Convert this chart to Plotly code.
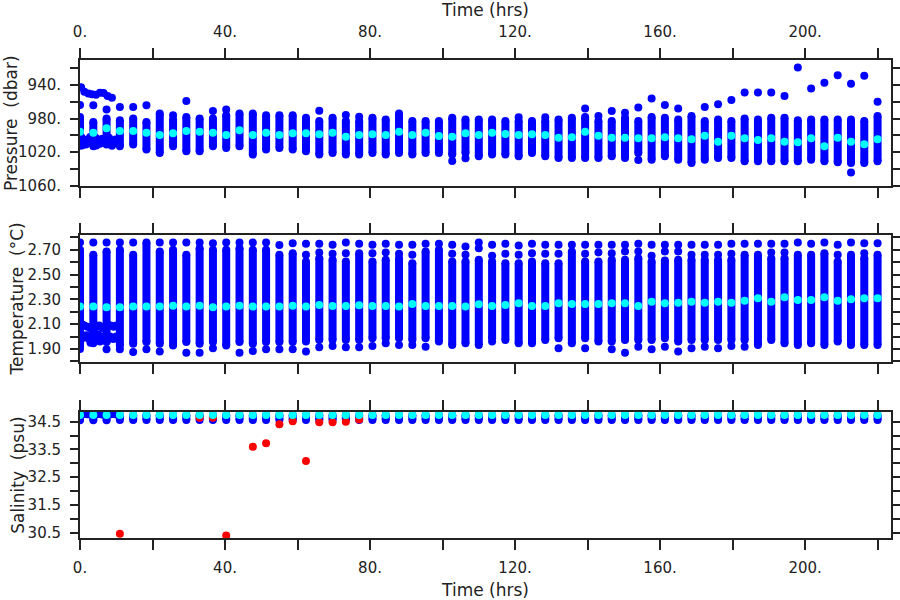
import plotly.graph_objects as go

# ---------------- data ----------------
hours = [0.0, 3.67, 7.33, 11.0, 14.67, 18.33, 22.0, 25.67, 29.33, 33.0, 36.67, 40.33,
         44.0, 47.67, 51.33, 55.0, 58.67, 62.33, 66.0, 69.67, 73.33, 77.0, 80.67, 84.33,
         88.0, 91.67, 95.33, 99.0, 102.67, 106.33, 110.0, 113.67, 117.33, 121.0, 124.67,
         128.33, 132.0, 135.67, 139.33, 143.0, 146.67, 150.33, 154.0, 157.67, 161.33, 165.0,
         168.67, 172.33, 176.0, 179.67, 183.33, 187.0, 190.67, 194.33, 198.0, 201.67, 205.33,
         209.0, 212.67, 216.33, 220.0]

# pressure profiles: shallowest / deepest of the continuous column, mean, isolated samples
pres_top = [978, 984, 980, 982, 980, 984, 974, 981, 978, 980, 980, 976, 974, 974, 976, 976,
            976, 979, 983, 979, 983, 983, 979, 981, 974, 983, 983, 983, 979, 981, 981, 981,
            983, 983, 983, 983, 981, 979, 978, 983, 983, 979, 983, 978, 979, 981, 977, 983,
            981, 983, 980, 981, 979, 979, 982, 981, 981, 981, 981, 983, 977]
pres_bot = [1012, 1013, 1011, 1013, 1011, 1017, 1021, 1013, 1019, 1019, 1013, 1015, 1013,
            1023, 1017, 1015, 1017, 1019, 1023, 1021, 1023, 1023, 1021, 1023, 1021, 1023,
            1021, 1021, 1023, 1021, 1025, 1023, 1023, 1025, 1021, 1025, 1027, 1027, 1027,
            1027, 1025, 1027, 1021, 1029, 1025, 1029, 1033, 1029, 1027, 1027, 1031, 1031,
            1031, 1031, 1031, 1029, 1031, 1032, 1033, 1033, 1031]
pres_mean = [995.7, 997.0, 991.6, 994.8, 994.8, 997.0, 999.6, 997.6, 994.8, 995.7, 997.0,
             999.6, 994.0, 999.6, 997.0, 999.6, 997.6, 997.6, 998.8, 996.8, 1001.6, 999.6,
             998.8, 999.6, 995.7, 999.6, 996.8, 1000.8, 1001.6, 997.6, 999.6, 996.8, 998.4,
             999.6, 998.8, 999.6, 1002.8, 1002.4, 995.7, 1000.4, 1002.8, 1002.8, 1003.6,
             1003.6, 1002.4, 1003.6, 1004.8, 1000.4, 1007.5, 1000.4, 1003.6, 1005.6, 1003.6,
             1007.5, 1008.3, 1003.6, 1013.0, 1002.8, 1007.5, 1010.5, 1004.8]
pres_extra = [[963.8], [964], [969], [966], [966], [964], [], [976], [959], [], [971], [969],
              [], [], [], [], [], [], [970.6], [], [975.8], [977.7], [], [], [], [], [], [],
              [1030.6], [1027.4], [], [], [], [978.5], [], [978.5], [], [], [967.8], [976.9],
              [971], [973], [966.6, 1029.4], [955.9], [963.8], [967.8], [], [966], [963],
              [957.9], [948.7], [948.7], [948.7], [953.1], [918.9], [944], [937.2], [928.1],
              [938.4, 1044.5], [928.9], [959.9]]
early_pres_hours = [0.3, 1.2, 2.3, 3.3, 4.4, 5.5, 6.5, 7.6, 8.8,
                    0.5, 1.0, 1.6, 2.2, 2.8, 3.3, 4.3, 4.9, 5.5, 6.1, 6.7, 8.0, 8.5, 9.2, 9.8,
                    10.3, 0.5, 4.5, 8.8]
early_pres = [942.5, 948, 950, 951, 951.5, 949, 949.5, 953, 955,
              1003, 1008, 1011, 1005, 1002, 1008, 1003, 1006, 1010, 1004, 1008, 1003, 1007,
              1010, 1005, 1008, 1012, 1012, 1012.5]

# temperature profiles
temp_hi = [2.70, 2.66, 2.687, 2.70, 2.66, 2.759, 2.687, 2.70, 2.66, 2.714, 2.70, 2.70, 2.714,
           2.70, 2.70, 2.66, 2.673, 2.606, 2.633, 2.620, 2.606, 2.673, 2.606, 2.620, 2.633,
           2.593, 2.687, 2.70, 2.606, 2.606, 2.620, 2.606, 2.593, 2.593, 2.606, 2.593, 2.593,
           2.687, 2.606, 2.606, 2.620, 2.620, 2.633, 2.606, 2.614, 2.620, 2.620, 2.620, 2.620,
           2.620, 2.660, 2.660, 2.633, 2.633, 2.660, 2.660, 2.673, 2.606, 2.660, 2.633, 2.660]
temp_lo = [1.90, 1.946, 1.956, 1.929, 1.942, 1.956, 1.942, 1.929, 1.956, 1.942, 1.956, 1.929,
           1.956, 1.942, 1.956, 1.956, 1.956, 1.960, 1.973, 1.973, 1.973, 1.973, 1.987, 1.987,
           1.987, 1.973, 1.987, 1.960, 1.933, 1.946, 1.933, 1.987, 1.973, 1.946, 1.946, 1.973,
           1.987, 1.946, 1.987, 1.960, 1.960, 1.973, 1.973, 1.973, 1.987, 1.960, 1.973, 1.973,
           1.973, 1.973, 1.973, 1.933, 1.973, 1.946, 1.933, 1.946, 1.933, 1.960, 1.933, 1.933,
           1.933]
temp_mean = [2.242, 2.242, 2.237, 2.237, 2.242, 2.242, 2.242, 2.248, 2.242, 2.248, 2.237,
             2.242, 2.248, 2.242, 2.242, 2.242, 2.248, 2.242, 2.256, 2.247, 2.247, 2.253,
             2.247, 2.247, 2.242, 2.264, 2.247, 2.247, 2.247, 2.242, 2.261, 2.247, 2.256,
             2.269, 2.247, 2.247, 2.269, 2.264, 2.264, 2.264, 2.269, 2.269, 2.247, 2.282,
             2.269, 2.274, 2.282, 2.274, 2.282, 2.274, 2.290, 2.309, 2.282, 2.317, 2.296,
             2.296, 2.317, 2.290, 2.301, 2.309, 2.309]
temp_extra = [[2.759], [2.759], [2.759, 1.897], [2.759, 1.897], [2.759, 1.876], [1.897],
              [2.759, 1.880], [2.759], [2.759, 1.870], [2.759, 1.870], [2.754, 1.907],
              [2.759], [2.759, 1.870], [2.759, 1.884], [2.759, 1.897], [2.740, 1.897],
              [2.754, 1.897], [2.749, 2.660, 1.879], [2.749, 2.679, 1.914],
              [2.741, 2.668, 1.925], [2.759, 2.673, 1.914], [2.749, 1.914],
              [2.741, 2.673, 1.925], [2.749, 2.679, 1.946], [2.741, 2.668, 1.933],
              [2.741, 2.660, 1.933], [2.749, 1.919], [2.749], [2.741, 2.668], [2.727, 2.660],
              [2.759, 2.714], [2.741, 2.652, 1.960], [2.749, 2.668], [2.735, 2.660],
              [2.749, 2.673], [2.741, 2.668], [2.741, 2.668, 1.906], [2.741],
              [2.741, 2.668, 1.906], [2.741, 2.679], [2.741, 2.673, 1.898],
              [2.741, 2.687, 1.870], [2.749, 2.687, 1.919], [2.741, 2.652, 1.898],
              [2.741, 2.687, 1.919], [2.741, 2.687, 1.879], [2.741, 2.660, 1.906],
              [2.741, 2.660, 1.919], [2.741, 2.660, 1.906], [2.749, 2.668, 1.925],
              [2.749, 1.919], [2.749], [2.749, 2.679], [2.749, 2.679], [2.759], [2.749],
              [2.759], [2.741, 2.660], [2.759], [2.754, 2.673], [2.754]]
early_temp_hours = [0.5, 1.2, 2.0, 2.8, 4.5, 5.3, 6.2, 7.0, 8.5, 9.3, 10.0,
                    0.3, 1.0, 1.8, 2.5, 3.3, 4.2, 5.0, 5.8, 6.6, 7.5, 8.3, 9.2, 10.0, 2.9, 5.5]
early_temp = [2.10, 2.09, 2.08, 2.07, 2.08, 2.09, 2.07, 2.08, 2.09, 2.08, 2.09,
              2.02, 1.99, 2.01, 1.98, 2.00, 1.99, 2.02, 1.98, 2.00, 1.97, 2.00, 1.98, 2.00,
              1.95, 1.96]

# salinity profiles
sal_hi = [34.76, 34.76, 34.76, 34.74, 34.74, 34.74, 34.74, 34.74, 34.74, 34.74, 34.74, 34.74,
          34.74, 34.74, 34.74, 34.74, 34.74, 34.74, 34.74, 34.74, 34.74, 34.74, 34.74, 34.74,
          34.74, 34.74, 34.74, 34.74, 34.74, 34.74, 34.74, 34.74, 34.74, 34.74, 34.74, 34.74,
          34.74, 34.74, 34.74, 34.74, 34.74, 34.74, 34.74, 34.74, 34.74, 34.74, 34.74, 34.74,
          34.74, 34.74, 34.74, 34.74, 34.74, 34.74, 34.74, 34.74, 34.74, 34.74, 34.74, 34.74,
          34.74]
sal_lo = [34.55, 34.55, 34.55, 34.56, 34.56, 34.56, 34.56, 34.56, 34.56, 34.56, 34.56, 34.56,
          34.56, 34.56, 34.56, 34.56, 34.56, 34.56, 34.56, 34.56, 34.56, 34.56, 34.56, 34.56,
          34.56, 34.56, 34.56, 34.56, 34.56, 34.56, 34.56, 34.56, 34.56, 34.56, 34.56, 34.56,
          34.56, 34.56, 34.56, 34.56, 34.56, 34.56, 34.56, 34.56, 34.56, 34.56, 34.56, 34.56,
          34.56, 34.56, 34.56, 34.56, 34.56, 34.56, 34.56, 34.56, 34.56, 34.56, 34.56, 34.56,
          34.56]
sal_mean = [34.74, 34.74, 34.74, 34.74, 34.74, 34.74, 34.74, 34.74, 34.74, 34.74, 34.74,
            34.74, 34.74, 34.74, 34.74, 34.74, 34.74, 34.74, 34.74, 34.74, 34.74, 34.74,
            34.74, 34.74, 34.74, 34.74, 34.74, 34.74, 34.74, 34.74, 34.74, 34.74, 34.74,
            34.74, 34.74, 34.74, 34.74, 34.74, 34.74, 34.74, 34.74, 34.74, 34.74, 34.74,
            34.74, 34.74, 34.74, 34.74, 34.74, 34.74, 34.74, 34.74, 34.74, 34.74, 34.74,
            34.74, 34.74, 34.74, 34.74, 34.74, 34.74]
early_sal_hours = [0.4, 1.2, 2.0, 2.8, 4.5, 5.3, 6.1, 6.9, 8.5, 9.3, 10.0]
early_sal = [34.76, 34.78, 34.77, 34.76, 34.77, 34.78, 34.76, 34.77, 34.77, 34.78, 34.76]
flag_hours = [11.0, 40.33, 47.67, 51.33, 55.0, 62.33, 33.0, 36.67, 58.67, 66.0, 69.67,
              73.33, 77.0]
flag_sal = [30.46, 30.40, 33.60, 33.72, 34.41, 33.08, 34.64, 34.64, 34.52, 34.48, 34.48,
            34.50, 34.58]

panel_titles = ["Pressure\u00a0\u00a0(dbar)", "Temperature\u00a0\u00a0(\u00b0C)",
                "Salinity\u00a0\u00a0(psu)"]

# ---------------- styling ----------------
FONT = "DejaVu Sans"
INK = "#222222"
BLUE = "#0000ff"
CYAN = "#00ffff"
RED = "#ff0000"
DOT = 8

fig = go.Figure()


def add_columns(hi, lo, xa, ya):
    xs, ys = [], []
    for t, a, b in zip(hours, hi, lo):
        xs += [t, t, None]
        ys += [a, b, None]
    fig.add_trace(go.Scatter(x=xs, y=ys, mode="lines+markers", xaxis=xa, yaxis=ya,
                             line=dict(color=BLUE, width=DOT),
                             marker=dict(color=BLUE, size=DOT),
                             hoverinfo="skip", showlegend=False))


def add_points(xs, ys, color, xa, ya):
    fig.add_trace(go.Scatter(x=xs, y=ys, mode="markers", xaxis=xa, yaxis=ya,
                             marker=dict(color=color, size=DOT, line=dict(width=0)),
                             hoverinfo="skip", showlegend=False))


def flatten(extra):
    xs, ys = [], []
    for t, vals in zip(hours, extra):
        for v in vals:
            xs.append(t)
            ys.append(v)
    return xs, ys


# pressure panel
add_columns(pres_top, pres_bot, "x", "y")
ex, ey = flatten(pres_extra)
add_points(ex, ey, BLUE, "x", "y")
add_points(early_pres_hours, early_pres, BLUE, "x", "y")
add_points(hours, pres_mean, CYAN, "x", "y")

# temperature panel
add_columns(temp_hi, temp_lo, "x2", "y2")
ex, ey = flatten(temp_extra)
add_points(ex, ey, BLUE, "x2", "y2")
add_points(early_temp_hours, early_temp, BLUE, "x2", "y2")
add_points(hours, temp_mean, CYAN, "x2", "y2")

# salinity panel
add_columns(sal_hi, sal_lo, "x3", "y3")
add_points(early_sal_hours, early_sal, BLUE, "x3", "y3")
add_points(flag_hours, flag_sal, RED, "x3", "y3")
add_points(hours, sal_mean, CYAN, "x3", "y3")

tickfont = dict(family=FONT, size=15, color=INK)
titlefont = dict(family=FONT, size=17, color=INK)


def xaxis(anchor, labels, side, standoff):
    d = dict(anchor=anchor, range=[0, 223.7], tick0=0, dtick=40, ticksuffix=".",
             ticks="outside", ticklen=10, tickwidth=1.5, tickcolor=INK,
             showline=True, linewidth=2, linecolor=INK, mirror="ticks",
             showgrid=False, zeroline=False, showticklabels=labels, side=side,
             tickfont=tickfont, ticklabelstandoff=5, automargin=False,
             minor=dict(tick0=0, dtick=20, ticks="outside", ticklen=10, tickwidth=1.5,
                        tickcolor=INK, showgrid=False))
    if labels:
        d["title"] = dict(text="Time (hrs)", font=titlefont, standoff=standoff)
    return d


def yaxis(anchor, domain, rng, tick0, dtick, mtick0, mdtick, fmt, suffix):
    return dict(anchor=anchor, domain=domain, range=rng, tick0=tick0, dtick=dtick,
                tickformat=fmt, ticksuffix=suffix, ticks="outside", ticklen=8,
                tickwidth=1.5, tickcolor=INK, showline=True, linewidth=2, linecolor=INK,
                mirror="ticks", showgrid=False, zeroline=False, tickfont=tickfont,
                ticklabelstandoff=6, automargin=False,
                minor=dict(tick0=mtick0, dtick=mdtick, ticks="outside", ticklen=8,
                           tickwidth=1.5, tickcolor=INK, showgrid=False))


domains = [[0.7364, 1.0], [0.3682, 0.6339], [0.0, 0.2642]]
title_x = [-0.0850, -0.0765, -0.0765]   # paper units left of the plot area

fig.update_layout(
    width=900, height=600,
    margin=dict(l=80, r=9, t=60, b=62),
    paper_bgcolor="white", plot_bgcolor="white",
    showlegend=False,
    xaxis=xaxis("y", True, "top", 12),
    xaxis2=xaxis("y2", False, "bottom", 6),
    xaxis3=xaxis("y3", True, "bottom", 9),
    yaxis=yaxis("x", domains[0], [1060.5, 910], 940, 40, 920, 20, "d", "."),
    yaxis2=yaxis("x2", domains[1], [1.795, 2.82], 1.9, 0.2, 1.8, 0.1, ".2f", ""),
    yaxis3=yaxis("x3", domains[2], [30.31, 34.86], 30.5, 1.0, 30.5, 0.5, ".1f", ""),
)

for text, dom, tx in zip(panel_titles, domains, title_x):
    fig.add_annotation(text=text, xref="paper", yref="paper", x=tx,
                       y=(dom[0] + dom[1]) / 2, xanchor="center", yanchor="middle",
                       textangle=-90, showarrow=False, font=titlefont)

# the page body otherwise adds an 8 px margin around the figure
fig.write_html("out.html", config={"displayModeBar": False},
               post_script="document.body.style.margin='0px';")
